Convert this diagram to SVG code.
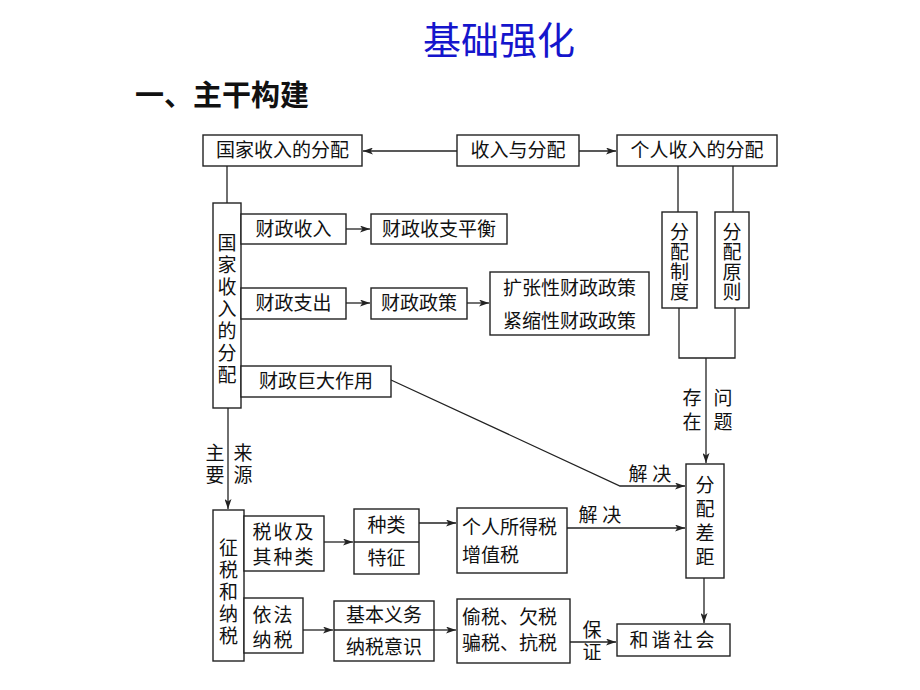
<svg xmlns="http://www.w3.org/2000/svg" width="920" height="690" viewBox="0 0 920 690">
<defs>
<marker id="ah" markerWidth="10" markerHeight="7" refX="10" refY="3.5" orient="auto" markerUnits="userSpaceOnUse">
<path d="M0,0 L10,3.5 L0,7 L2.5,3.5 z" fill="#222"/>
</marker>
<style>
.b{fill:#fff;stroke:#222;stroke-width:1.4}
.t{font-family:"Liberation Serif","Noto Sans CJK SC",serif;font-size:19px;fill:#111}
.m{text-anchor:middle}
.c{fill:none;stroke:#222;stroke-width:1.3}
.a{marker-end:url(#ah)}
</style>
</defs>
<rect width="920" height="690" fill="#fff"/>
<text x="499" y="54" font-family="Liberation Serif,Noto Sans CJK SC,serif" font-size="38" fill="#1515CC" text-anchor="middle">基础强化</text>
<text x="135" y="106" font-family="Noto Sans CJK SC,sans-serif" font-size="29" font-weight="bold" fill="#111">一、主干构建</text>

<g id="connectors">
<path class="c a" d="M457,151 H363"/>
<path class="c a" d="M579,151 H616"/>
<path class="c" d="M227,166 V203"/>
<path class="c a" d="M346,229 H370"/>
<path class="c a" d="M346,303 H370"/>
<path class="c a" d="M467,303 H489"/>
<path class="c" d="M678,166 V212 M733,166 V212"/>
<path class="c" d="M679,308 V358 H735 V308"/>
<path class="c a" d="M706,358 V463"/>
<path class="c a" d="M391,380 L620,486 H685"/>
<path class="c a" d="M228,408 V509"/>
<path class="c a" d="M324,542 H353"/>
<path class="c a" d="M419,523 H456"/>
<path class="c a" d="M567,528 H685"/>
<path class="c a" d="M303,630 H333"/>
<path class="c a" d="M434,630 H456"/>
<path class="c a" d="M570,642 H616"/>
<path class="c a" d="M704,578 V623"/>
<text class="t m" x="692" y="405">存</text>
<text class="t m" x="692" y="429">在</text>
<text class="t m" x="723" y="405">问</text>
<text class="t m" x="723" y="429">题</text>
<text class="t m" x="650" y="481">解 决</text>
<text class="t m" x="600" y="522">解 决</text>
<text class="t m" x="215" y="460">主</text>
<text class="t m" x="215" y="482">要</text>
<text class="t m" x="243" y="460">来</text>
<text class="t m" x="243" y="482">源</text>
<text class="t m" x="592" y="637">保</text>
<text class="t m" x="592" y="659">证</text>
</g>

<g id="n_gjsr"><rect class="b" x="203" y="135" width="159" height="31"/><text class="t m" x="282.5" y="157">国家收入的分配</text></g>
<g id="n_srfp"><rect class="b" x="457" y="135" width="122" height="31"/><text class="t m" x="518" y="157">收入与分配</text></g>
<g id="n_grsr"><rect class="b" x="617" y="135" width="160" height="31"/><text class="t m" x="697" y="157">个人收入的分配</text></g>

<g id="n_gjsr_v"><rect class="b" x="213" y="203" width="28" height="205"/>
<text class="t m" x="227" y="250">国</text><text class="t m" x="227" y="272">家</text><text class="t m" x="227" y="294">收</text><text class="t m" x="227" y="316">入</text><text class="t m" x="227" y="338">的</text><text class="t m" x="227" y="360">分</text><text class="t m" x="227" y="382">配</text></g>

<g id="n_czsr"><rect class="b" x="241" y="214" width="105" height="30"/><text class="t m" x="293.5" y="236">财政收入</text></g>
<g id="n_czph"><rect class="b" x="371" y="214" width="136" height="30"/><text class="t m" x="439" y="236">财政收支平衡</text></g>
<g id="n_czzc"><rect class="b" x="241" y="288" width="105" height="31"/><text class="t m" x="293.5" y="310">财政支出</text></g>
<g id="n_czzcc"><rect class="b" x="371" y="288" width="96" height="31"/><text class="t m" x="419" y="310">财政政策</text></g>
<g id="n_kz"><rect class="b" x="490" y="272" width="159" height="63"/><text class="t m" x="569.5" y="295">扩张性财政政策</text><text class="t m" x="569.5" y="328">紧缩性财政政策</text></g>
<g id="n_jd"><rect class="b" x="241" y="366" width="150" height="31"/><text class="t m" x="316" y="388">财政巨大作用</text></g>

<g id="n_fpzd"><rect class="b" x="662" y="212" width="35" height="96"/>
<text class="t m" x="679.5" y="239">分</text><text class="t m" x="679.5" y="259">配</text><text class="t m" x="679.5" y="279">制</text><text class="t m" x="679.5" y="299">度</text></g>
<g id="n_fpyz"><rect class="b" x="715" y="212" width="34" height="96"/>
<text class="t m" x="732" y="239">分</text><text class="t m" x="732" y="259">配</text><text class="t m" x="732" y="279">原</text><text class="t m" x="732" y="299">则</text></g>

<g id="n_fpcj"><rect class="b" x="686" y="464" width="38" height="114"/>
<text class="t m" x="705" y="492">分</text><text class="t m" x="705" y="516">配</text><text class="t m" x="705" y="540">差</text><text class="t m" x="705" y="564">距</text></g>

<g id="n_zsns"><rect class="b" x="213" y="510" width="31" height="151"/>
<text class="t m" x="228.5" y="555">征</text><text class="t m" x="228.5" y="577">税</text><text class="t m" x="228.5" y="599">和</text><text class="t m" x="228.5" y="621">纳</text><text class="t m" x="228.5" y="643">税</text></g>

<g id="n_sszl"><rect class="b" x="244" y="516" width="80" height="55"/><text class="t m" x="284" y="539" letter-spacing="2">税收及</text><text class="t m" x="284" y="564" letter-spacing="2">其种类</text></g>
<g id="n_zltz"><rect class="b" x="354" y="509" width="65" height="65"/><path class="c" d="M354,542 H419"/><text class="t m" x="386.5" y="532">种类</text><text class="t m" x="386.5" y="565">特征</text></g>
<g id="n_grsds"><rect class="b" x="457" y="508" width="110" height="65"/><text class="t" x="462" y="534">个人所得税</text><text class="t" x="462" y="562">增值税</text></g>
<g id="n_yfns"><rect class="b" x="244" y="598" width="59" height="55"/><text class="t m" x="273.5" y="622" letter-spacing="2">依法</text><text class="t m" x="273.5" y="647" letter-spacing="2">纳税</text></g>
<g id="n_jbyw"><rect class="b" x="334" y="601" width="100" height="60"/><path class="c" d="M334,630 H434"/><text class="t m" x="384" y="622">基本义务</text><text class="t m" x="384" y="654">纳税意识</text></g>
<g id="n_ts"><rect class="b" x="457" y="599" width="113" height="64"/><text class="t" x="462" y="624">偷税、欠税</text><text class="t" x="462" y="650">骗税、抗税</text></g>
<g id="n_hxsh"><rect class="b" x="617" y="624" width="113" height="32"/><text class="t m" x="673.5" y="647" letter-spacing="3">和谐社会</text></g>
</svg>
